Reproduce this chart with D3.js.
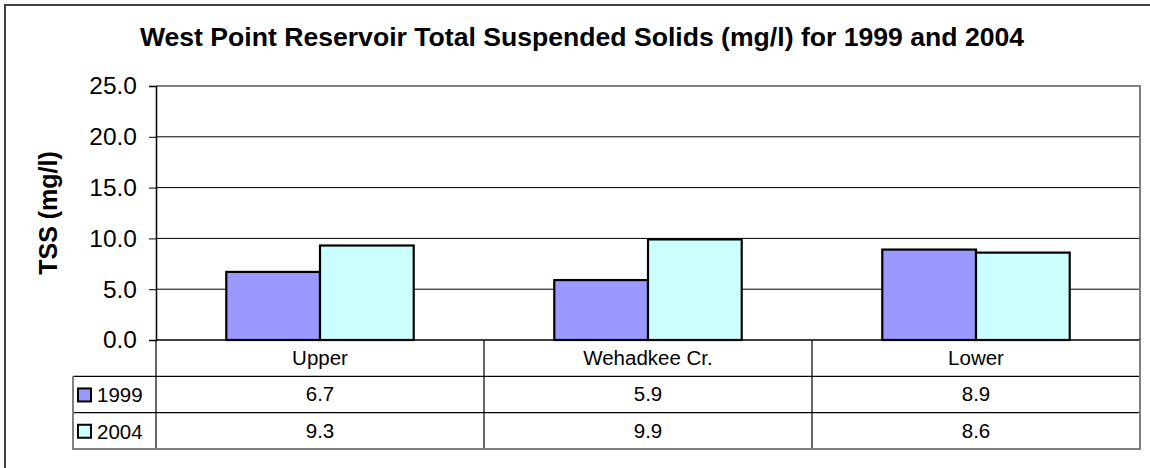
<!DOCTYPE html>
<html>
<head>
<meta charset="utf-8">
<script src="https://cdn.jsdelivr.net/npm/d3@7"></script>
<style>
  body { margin: 0; background: #fff; }
  svg { display: block; font-family: Arial, "Liberation Sans", sans-serif; }
</style>
</head>
<body>
<svg width="1150" height="468"></svg>
<script>
// chart data
var categories = ['Upper', 'Wehadkee Cr.', 'Lower'];
var seriesNames = ['1999', '2004'];
var values1999 = [6.7, 5.9, 8.9];
var values2004 = [9.3, 9.9, 8.6];
var yTicks = [0, 5, 10, 15, 20, 25];
var seriesColors = ['#9999ff', '#ccffff'];

var svg = d3.select('svg');
var plotL = 156, plotR = 1140, plotT = 86, plotB = 340;
var rowH = 36.3;

// outer frame (clipped at right/bottom like the original)
svg.append('rect').attr('x', 5).attr('y', 5).attr('width', 1160).attr('height', 470)
  .attr('fill', 'white').attr('stroke', '#404040').attr('stroke-width', 2);

svg.append('text').attr('x', 582).attr('y', 46).attr('text-anchor', 'middle')
  .attr('font-size', 26.6).attr('font-weight', 'bold')
  .text('West Point Reservoir Total Suspended Solids (mg/l) for 1999 and 2004');

var y = d3.scaleLinear().domain([0, 25]).range([plotB, plotT]);
var x0 = d3.scaleBand().domain(categories).range([plotL, plotR]);
var x1 = d3.scaleBand().domain(seriesNames).range([0, x0.bandwidth()]).paddingOuter(0.75);

// gridlines
svg.append('g').selectAll('line').data(yTicks.filter(function (d) { return d > 0 && d < 25; }))
  .enter().append('line')
  .attr('x1', plotL).attr('x2', plotR).attr('y1', function (d) { return y(d); }).attr('y2', function (d) { return y(d); })
  .attr('stroke', '#000').attr('stroke-width', 1);

// plot border top/right
svg.append('path').attr('d', 'M' + plotL + ',' + y(25) + 'H' + plotR + 'V' + y(0))
  .attr('fill', 'none').attr('stroke', '#808080').attr('stroke-width', 2);

// bars
var rows = categories.map(function (c, i) { return { cat: c, vals: [values1999[i], values2004[i]] }; });
var groups = svg.append('g').selectAll('g').data(rows).enter().append('g')
  .attr('transform', function (d) { return 'translate(' + x0(d.cat) + ',0)'; });
groups.selectAll('rect').data(function (d) {
  return d.vals.map(function (v, j) { return { name: seriesNames[j], v: v, j: j }; });
}).enter().append('rect')
  .attr('x', function (d) { return x1(d.name); })
  .attr('y', function (d) { return y(d.v); })
  .attr('width', x1.bandwidth())
  .attr('height', function (d) { return y(0) - y(d.v); })
  .attr('fill', function (d) { return seriesColors[d.j]; })
  .attr('stroke', '#000').attr('stroke-width', 2.2);

// y axis
var yAxis = d3.axisLeft(y).tickValues(yTicks).tickFormat(d3.format('.1f')).tickSize(7).tickPadding(12);
var ga = svg.append('g').attr('transform', 'translate(' + plotL + ',0)').call(yAxis);
ga.select('.domain').attr('stroke', '#000').attr('stroke-width', 1.5);
ga.selectAll('.tick line').attr('stroke', '#000');
ga.selectAll('.tick text').attr('font-size', 24.5).attr('fill', '#000')
  .attr('font-family', 'Arial, "Liberation Sans", sans-serif');

svg.append('text').attr('transform', 'translate(57,' + ((plotT + plotB) / 2) + ') rotate(-90)')
  .attr('text-anchor', 'middle').attr('font-size', 25).attr('font-weight', 'bold').text('TSS (mg/l)');

// data table
var tableL = 73, tableB = plotB + rowH * 3;
var t = svg.append('g');
[plotB + rowH, plotB + rowH * 2].forEach(function (yy) {
  t.append('line').attr('x1', tableL).attr('x2', plotR).attr('y1', yy).attr('y2', yy)
    .attr('stroke', '#000').attr('stroke-width', 1.2);
});
t.append('line').attr('x1', plotL).attr('x2', plotR).attr('y1', plotB).attr('y2', plotB)
  .attr('stroke', '#000').attr('stroke-width', 1.5);
categories.forEach(function (c) {
  t.append('line').attr('x1', x0(c)).attr('x2', x0(c)).attr('y1', plotB).attr('y2', tableB)
    .attr('stroke', '#000').attr('stroke-width', 1.2);
});
// outer gray border
t.append('path')
  .attr('d', 'M' + tableL + ',' + (plotB + rowH) + 'V' + tableB + 'H' + plotR + 'V' + plotB)
  .attr('fill', 'none').attr('stroke', '#808080').attr('stroke-width', 2);

t.selectAll('text.cat').data(categories).enter().append('text')
  .attr('x', function (d) { return x0(d) + x0.bandwidth() / 2; })
  .attr('y', plotB + rowH / 2 + 7).attr('text-anchor', 'middle').attr('font-size', 20.5)
  .text(function (d) { return d; });

[values1999, values2004].forEach(function (vals, j) {
  var yy = plotB + rowH * (j + 1);
  t.append('rect').attr('x', 78).attr('y', yy + rowH / 2 - 6).attr('width', 13).attr('height', 13)
    .attr('fill', seriesColors[j]).attr('stroke', '#000').attr('stroke-width', 2);
  t.append('text').attr('x', 97).attr('y', yy + rowH / 2 + 8).attr('font-size', 20.5).text(seriesNames[j]);
  t.selectAll('text.v' + j).data(vals).enter().append('text')
    .attr('x', function (d, i) { return x0(categories[i]) + x0.bandwidth() / 2; })
    .attr('y', yy + rowH / 2 + 7).attr('text-anchor', 'middle').attr('font-size', 20.5)
    .text(function (d) { return d3.format('.1f')(d); });
});
</script>
</body>
</html>
